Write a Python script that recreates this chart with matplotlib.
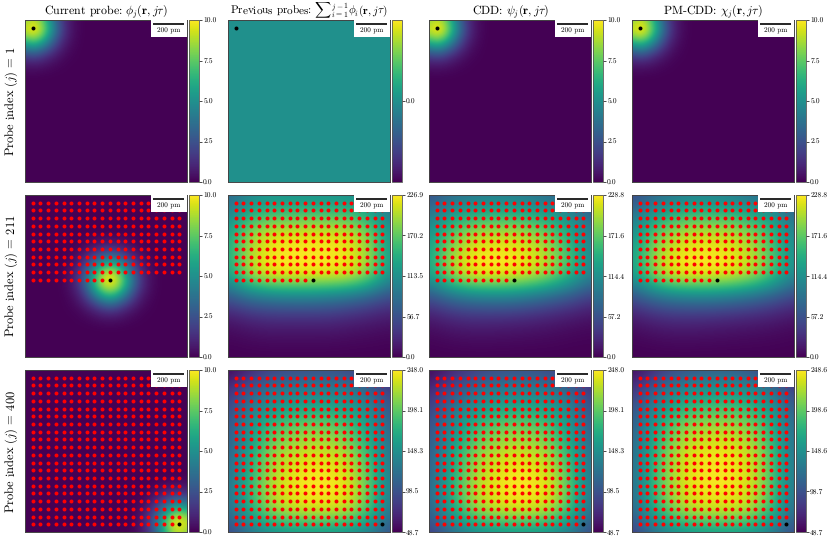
import numpy as np
import matplotlib
matplotlib.use("Agg")
import matplotlib.pyplot as plt
from matplotlib.patches import Rectangle

plt.rcParams['font.family'] = ['cmr10', 'DejaVu Serif']
plt.rcParams['mathtext.fontset'] = 'cm'
plt.rcParams['axes.formatter.use_mathtext'] = True
plt.rcParams['text.hinting'] = 'none'
plt.rcParams['text.hinting_factor'] = 1

W, H = 830, 541
FIELD = 1050        # field of view in pm
STEP = 50           # probe step in pm

col_titles = [r'Current probe: $\phi_j(\mathbf{r},j\tau)$',
              r'Previous probes: ${\sum}_{i=1}^{j-1}\phi_i(\mathbf{r},j\tau)$',
              r'CDD: $\psi_j(\mathbf{r},j\tau)$',
              r'PM-CDD: $\chi_j(\mathbf{r},j\tau)$']
title_size = [8.6, 8.1, 8.6, 8.6]
probe_index = [1, 211, 400]

# one quadrant of the probe intensity (50 pm nodes)
probe_quadrant = [[10.0, 9.0, 6.6, 3.8, 1.6, 0.55, 0.15],
                  [9.0, 8.2, 5.8, 3.2, 1.4, 0.50, 0.12],
                  [6.6, 5.8, 4.0, 2.2, 0.90, 0.35, 0.08],
                  [3.8, 3.2, 2.2, 1.2, 0.55, 0.18, 0.04],
                  [1.6, 1.4, 0.90, 0.55, 0.22, 0.08, 0.03],
                  [0.55, 0.50, 0.35, 0.18, 0.08, 0.03, 0.01],
                  [0.15, 0.12, 0.08, 0.04, 0.03, 0.01, 0.0]]

# 9x9 nodes across the field, top row first
prev_211 = [[70, 100, 110, 110, 110, 110, 110, 100, 70],
            [100, 145, 160, 165, 165, 165, 160, 140, 95],
            [130, 190, 215, 220, 220, 220, 215, 185, 115],
            [135, 200, 224, 226, 226, 225, 222, 195, 120],
            [125, 195, 222, 226, 226, 224, 218, 185, 115],
            [60, 85, 95, 100, 100, 95, 85, 70, 50],
            [15, 25, 30, 30, 30, 30, 25, 20, 15],
            [3, 6, 8, 8, 8, 8, 6, 5, 3],
            [0, 0, 0, 0, 0, 0, 0, 0, 0]]
cdd_211 = [[50, 75, 85, 90, 90, 85, 75, 65, 45],
           [90, 125, 145, 150, 150, 145, 130, 110, 75],
           [115, 170, 200, 210, 210, 200, 180, 140, 95],
           [130, 195, 224, 228, 228, 222, 200, 160, 105],
           [125, 190, 224, 228, 226, 214, 190, 150, 100],
           [55, 80, 95, 100, 100, 90, 75, 60, 40],
           [15, 25, 30, 30, 28, 25, 20, 15, 10],
           [3, 6, 8, 8, 7, 6, 5, 3, 2],
           [0, 0, 0, 0, 0, 0, 0, 0, 0]]
pm_211 = [[45, 70, 85, 95, 95, 90, 80, 70, 45],
          [85, 125, 150, 160, 160, 155, 140, 120, 80],
          [110, 170, 200, 212, 214, 208, 190, 155, 100],
          [125, 190, 222, 228, 228, 224, 205, 165, 110],
          [120, 185, 222, 228, 227, 220, 200, 160, 105],
          [55, 80, 95, 100, 100, 92, 80, 65, 45],
          [15, 25, 30, 30, 28, 25, 22, 18, 12],
          [3, 6, 8, 8, 7, 6, 5, 4, 2],
          [0, 0, 0, 0, 0, 0, 0, 0, 0]]
prev_400 = [[50, 65, 85, 90, 95, 95, 90, 75, 55],
            [75, 105, 125, 130, 135, 135, 130, 115, 85],
            [90, 130, 155, 170, 175, 175, 165, 145, 100],
            [100, 150, 190, 205, 212, 210, 195, 165, 110],
            [105, 160, 208, 225, 232, 232, 218, 180, 120],
            [115, 172, 218, 238, 245, 245, 235, 195, 125],
            [120, 178, 224, 242, 248, 248, 240, 200, 130],
            [115, 168, 212, 230, 235, 235, 228, 190, 120],
            [85, 120, 140, 150, 150, 150, 145, 130, 95]]
cdd_400 = [[50, 65, 80, 90, 95, 95, 90, 75, 55],
           [70, 95, 115, 130, 135, 135, 130, 115, 80],
           [85, 120, 150, 170, 175, 175, 165, 140, 95],
           [95, 140, 180, 202, 210, 208, 195, 160, 105],
           [100, 155, 200, 222, 232, 230, 215, 175, 115],
           [105, 165, 212, 235, 245, 245, 232, 190, 120],
           [110, 170, 218, 240, 248, 248, 240, 195, 125],
           [105, 160, 208, 228, 235, 235, 225, 185, 115],
           [80, 110, 135, 145, 150, 150, 145, 125, 90]]
pm_400 = [[50, 70, 90, 100, 105, 105, 95, 80, 55],
          [75, 110, 135, 150, 155, 155, 145, 125, 85],
          [95, 140, 175, 190, 195, 195, 185, 155, 105],
          [105, 160, 205, 222, 228, 225, 212, 175, 115],
          [112, 172, 220, 238, 244, 242, 228, 185, 120],
          [115, 178, 226, 244, 248, 246, 234, 190, 125],
          [115, 178, 224, 242, 246, 245, 232, 190, 122],
          [108, 168, 212, 230, 235, 235, 222, 180, 115],
          [80, 115, 140, 150, 155, 155, 148, 125, 90]]

# colour limits and colourbar ticks per row (current, previous, CDD, PM-CDD)
ticks_1 = [[0.0, 2.5, 5.0, 7.5, 10.0], [0.0],
           [0.0, 2.5, 5.0, 7.5, 10.0], [0.0, 2.5, 5.0, 7.5, 10.0]]
ticks_211 = [[0.0, 2.5, 5.0, 7.5, 10.0], [0.0, 56.7, 113.5, 170.2, 226.9],
             [0.0, 57.2, 114.4, 171.6, 228.8], [0.0, 57.2, 114.4, 171.6, 228.8]]
ticks_400 = [[0.0, 2.5, 5.0, 7.5, 10.0], [48.7, 98.5, 148.3, 198.1, 248.0],
             [48.7, 98.5, 148.3, 198.1, 248.0], [48.7, 98.7, 148.6, 198.6, 248.6]]

# panel geometry in pixels
col_x = [25, 228, 429, 632]
row_y = [20, 195, 370]
PANEL = 162
CB_GAP = 2
CB_W = 10


def probe_image(j):
    # probe patch placed on a 22x22 node grid at the j-th scan position
    quad = np.array(probe_quadrant)
    right = np.hstack([quad[:, :0:-1], quad])
    patch = np.vstack([right[:0:-1], right])
    grid = np.zeros((22, 22))
    r, c = (j - 1) // 20 + 1, (j - 1) % 20 + 1
    for i in range(13):
        for k in range(13):
            a, b = r + i - 6, c + k - 6
            if 0 <= a < 22 and 0 <= b < 22:
                grid[a, b] = patch[i, k]
    return grid


def add_scalebar(ax):
    ax.add_patch(Rectangle((1 - 36 / PANEL, 1 - 16.7 / PANEL), 36 / PANEL, 16.7 / PANEL,
                           transform=ax.transAxes, fc='white', ec='none', zorder=5))
    ax.plot([1 - 33.7 / PANEL, 1 - 3 / PANEL], [1 - 3.7 / PANEL] * 2, transform=ax.transAxes,
            color='black', lw=1.2, solid_capstyle='butt', zorder=6)
    ax.text(1 - 18.3 / PANEL, 1 - 11.2 / PANEL, '200 pm', transform=ax.transAxes,
            fontsize=5.2, ha='center', va='center', zorder=6)


images = [[probe_image(1), np.zeros((2, 2)), probe_image(1), probe_image(1)],
          [probe_image(211), np.array(prev_211), np.array(cdd_211), np.array(pm_211)],
          [probe_image(400), np.array(prev_400), np.array(cdd_400), np.array(pm_400)]]
ticks = [ticks_1, ticks_211, ticks_400]

fig = plt.figure(figsize=(W / 100, H / 100), dpi=100)

for r in range(3):
    j = probe_index[r]
    for c in range(4):
        x0, y0 = col_x[c], row_y[r]
        ax = fig.add_axes([x0 / W, 1 - (y0 + PANEL) / H, PANEL / W, PANEL / H])
        data = images[r][c]
        half = FIELD / (data.shape[0] - 1) / 2
        tk = ticks[r][c]
        if len(tk) == 1:
            vmin, vmax = -1, 1
        else:
            vmin, vmax = tk[0], tk[-1]
        im = ax.imshow(data, cmap='viridis', vmin=vmin, vmax=vmax, interpolation='bicubic',
                       extent=(-half, FIELD + half, FIELD + half, -half))
        ax.set_xlim(0, FIELD)
        ax.set_ylim(FIELD, 0)
        ax.set_xticks([])
        ax.set_yticks([])
        for s in ax.spines.values():
            s.set_linewidth(0.7)
            s.set_color('#444444')

        # scan positions, earlier ones red and the current one black
        n = np.arange(j - 1)
        ax.scatter((n % 20 + 1) * STEP, (n // 20 + 1) * STEP, s=8, c='red', linewidths=0, zorder=3)
        ax.scatter([((j - 1) % 20 + 1) * STEP], [((j - 1) // 20 + 1) * STEP], s=8, c='black',
                   linewidths=0, zorder=4)
        add_scalebar(ax)

        if r == 0:
            ax.set_title(col_titles[c], fontsize=title_size[c], pad=0.8)
        if c == 0:
            ax.set_ylabel('Probe index ($j$) = %d' % j, fontsize=9, labelpad=3.5)

        cax = fig.add_axes([(x0 + PANEL + CB_GAP) / W, 1 - (y0 + PANEL) / H, CB_W / W, PANEL / H])
        cb = fig.colorbar(im, cax=cax, ticks=tk)
        cb.ax.set_yticklabels(['%.1f' % t for t in tk])
        cb.ax.tick_params(labelsize=5.4, length=2, width=0.5, pad=1)
        cb.outline.set_linewidth(0.6)
        cb.outline.set_edgecolor('#555555')

fig.savefig('out.png', dpi=100)
